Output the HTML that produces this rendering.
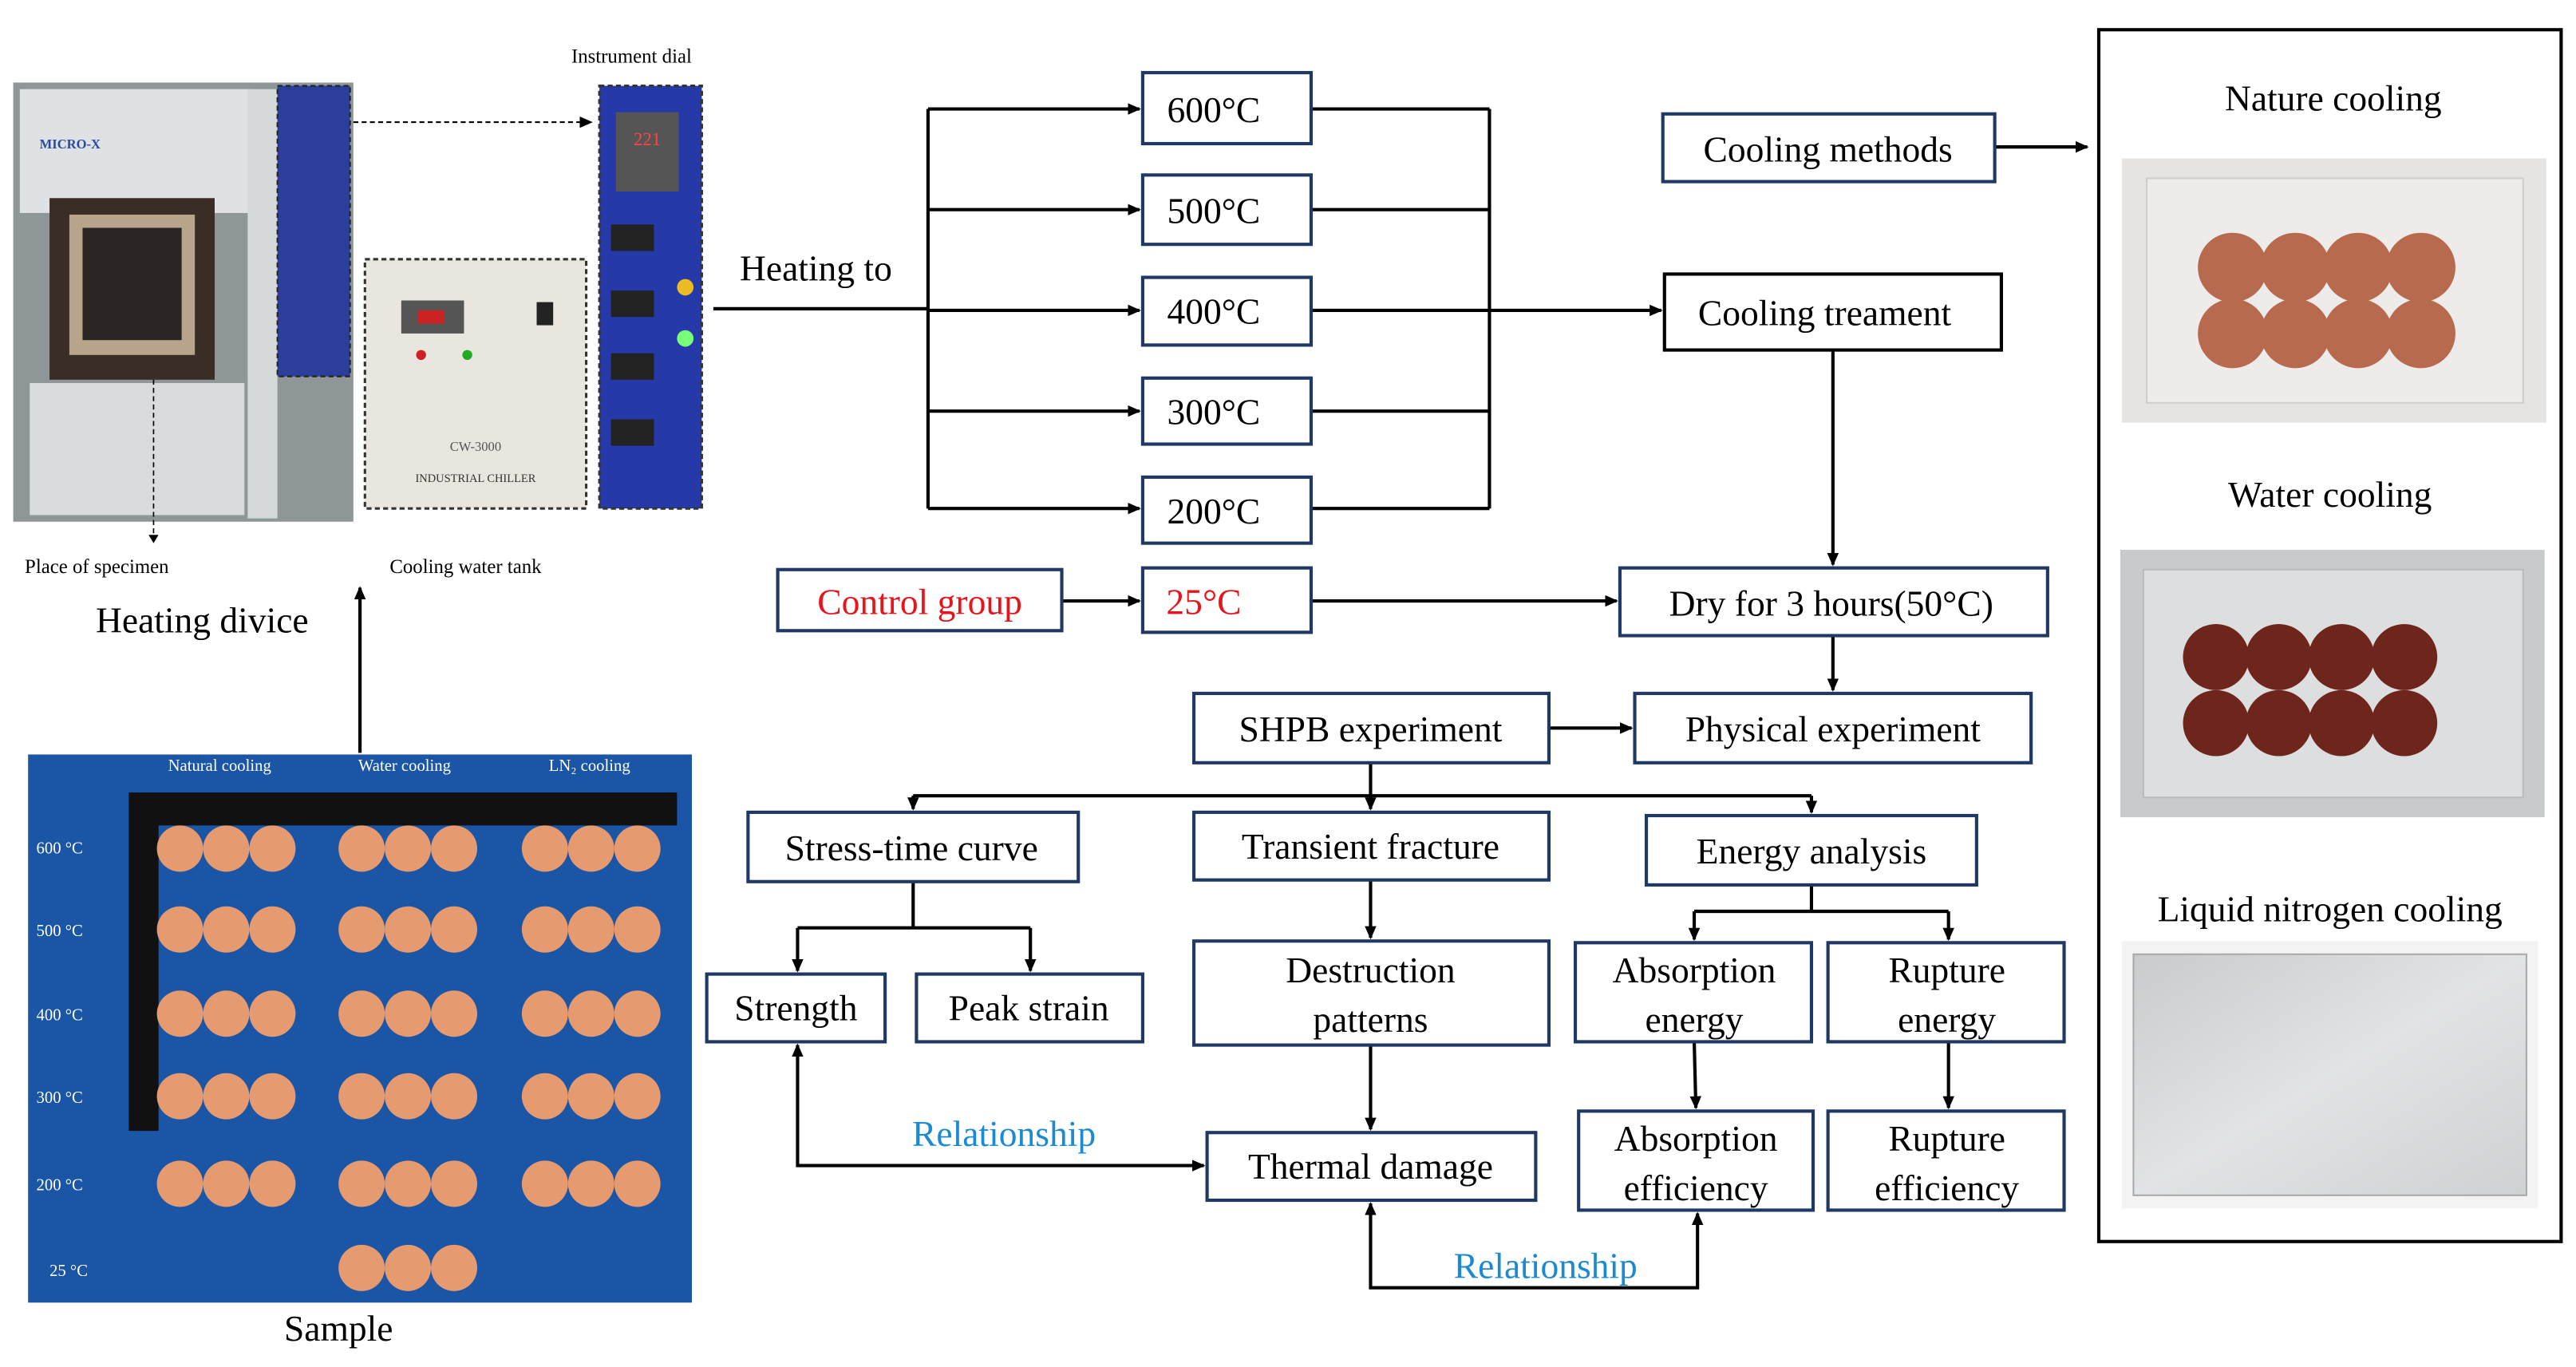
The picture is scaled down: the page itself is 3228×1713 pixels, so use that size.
<!DOCTYPE html>
<html><head><meta charset="utf-8"><style>
html,body{margin:0;padding:0;background:#fff;}
svg{display:block;}
text{font-family:"Liberation Serif",serif;}
</style></head><body>
<svg width="3228" height="1713" viewBox="0 0 1560 828" preserveAspectRatio="none" xmlns="http://www.w3.org/2000/svg">
<defs>
<marker id="ar" markerWidth="8" markerHeight="8" refX="7" refY="4" orient="auto" markerUnits="userSpaceOnUse"><path d="M0,0.5 L8,4 L0,7.5 z" fill="#000"/></marker>
<marker id="ars" markerWidth="8" markerHeight="8" refX="1" refY="4" orient="auto" markerUnits="userSpaceOnUse"><path d="M8,0.5 L0,4 L8,7.5 z" fill="#000"/></marker>
<linearGradient id="ln" x1="0" y1="0" x2="1" y2="1"><stop offset="0" stop-color="#c9cbcc"/><stop offset="0.5" stop-color="#e2e3e4"/><stop offset="1" stop-color="#cfd1d2"/></linearGradient>
</defs>

<!-- LEFT: heating device photos -->
<rect x="8" y="50" width="206" height="266" fill="#8e9698"/>
<rect x="12" y="54" width="140" height="75" fill="#dfe2e4"/>
<text x="24" y="90" font-size="8" fill="#2a4aa0" font-family="Liberation Sans,sans-serif" font-weight="bold">MICRO-X</text>
<rect x="30" y="120" width="100" height="110" fill="#3a2d25"/>
<rect x="42" y="130" width="76" height="85" fill="#b8a48a"/>
<rect x="50" y="138" width="60" height="68" fill="#2a2522"/>
<rect x="18" y="232" width="130" height="80" fill="#d9dcdc"/>
<rect x="150" y="54" width="18" height="260" fill="#d6d9da"/>
<rect x="168" y="52" width="44" height="176" fill="#2b3f9a" stroke="#222" stroke-dasharray="3,2" stroke-width="1"/>
<rect x="221" y="157" width="134" height="151" fill="#e9e6df" stroke="#333" stroke-dasharray="3,2" stroke-width="1.5"/>
<rect x="243" y="182" width="38" height="20" fill="#555"/>
<rect x="253" y="188" width="16" height="8" fill="#c22"/>
<rect x="325" y="183" width="10" height="14" fill="#222"/>
<circle cx="255" cy="215" r="3" fill="#c22"/><circle cx="283" cy="215" r="3" fill="#2a2"/>
<text x="288" y="273" font-size="8" text-anchor="middle" fill="#555" font-family="Liberation Sans,sans-serif">CW-3000</text>
<text x="288" y="292" font-size="7" text-anchor="middle" fill="#333" font-family="Liberation Sans,sans-serif">INDUSTRIAL CHILLER</text>
<rect x="363" y="52" width="62" height="256" fill="#2639a8" stroke="#333" stroke-dasharray="3,2" stroke-width="1.5"/>
<rect x="373" y="68" width="38" height="48" fill="#555"/>
<text x="392" y="88" font-size="11" text-anchor="middle" fill="#f44" font-family="Liberation Sans,sans-serif">221</text>
<rect x="370" y="136" width="26" height="16" fill="#222"/><rect x="370" y="176" width="26" height="16" fill="#222"/>
<rect x="370" y="214" width="26" height="16" fill="#222"/><rect x="370" y="254" width="26" height="16" fill="#222"/>
<circle cx="415" cy="174" r="5" fill="#eb2"/><circle cx="415" cy="205" r="5" fill="#7f7"/>
<line x1="214" y1="74" x2="358" y2="74" stroke="#000" stroke-dasharray="3,2" marker-end="url(#ar)"/>
<line x1="93" y1="230" x2="93" y2="326" stroke="#000" stroke-dasharray="3,2" stroke-width="0.8"/>
<path d="M90,324 L96,324 L93,329z" fill="#000"/>
<text x="346" y="38" font-size="12">Instrument dial</text>
<text x="15" y="347" font-size="12">Place of specimen</text>
<text x="236" y="347" font-size="12">Cooling water tank</text>
<text x="58" y="383" font-size="22">Heating divice</text>
<line x1="218" y1="456" x2="218" y2="356" stroke="#000" stroke-width="2" marker-end="url(#ar)"/>

<!-- Sample photo -->
<rect x="17" y="457" width="402" height="332" fill="#1b55a6"/>
<text x="133" y="467" font-size="10" fill="#fff" text-anchor="middle">Natural cooling</text>
<text x="245" y="467" font-size="10" fill="#fff" text-anchor="middle">Water cooling</text>
<text x="357" y="467" font-size="10" fill="#fff" text-anchor="middle">LN₂ cooling</text>
<path d="M78,480 L410,480 L410,500 L96,500 L96,685 L78,685 Z" fill="#111"/>
<g font-size="10" fill="#fff">
<text x="22" y="517">600 °C</text><text x="22" y="567">500 °C</text><text x="22" y="618">400 °C</text>
<text x="22" y="668">300 °C</text><text x="22" y="721">200 °C</text><text x="30" y="773">25 °C</text>
</g>
<g fill="#e59a70">
<circle cx="109" cy="514" r="14"/><circle cx="137" cy="514" r="14"/><circle cx="165" cy="514" r="14"/>
<circle cx="219" cy="514" r="14"/><circle cx="247" cy="514" r="14"/><circle cx="275" cy="514" r="14"/>
<circle cx="330" cy="514" r="14"/><circle cx="358" cy="514" r="14"/><circle cx="386" cy="514" r="14"/>
<circle cx="109" cy="563" r="14"/><circle cx="137" cy="563" r="14"/><circle cx="165" cy="563" r="14"/>
<circle cx="219" cy="563" r="14"/><circle cx="247" cy="563" r="14"/><circle cx="275" cy="563" r="14"/>
<circle cx="330" cy="563" r="14"/><circle cx="358" cy="563" r="14"/><circle cx="386" cy="563" r="14"/>
<circle cx="109" cy="614" r="14"/><circle cx="137" cy="614" r="14"/><circle cx="165" cy="614" r="14"/>
<circle cx="219" cy="614" r="14"/><circle cx="247" cy="614" r="14"/><circle cx="275" cy="614" r="14"/>
<circle cx="330" cy="614" r="14"/><circle cx="358" cy="614" r="14"/><circle cx="386" cy="614" r="14"/>
<circle cx="109" cy="664" r="14"/><circle cx="137" cy="664" r="14"/><circle cx="165" cy="664" r="14"/>
<circle cx="219" cy="664" r="14"/><circle cx="247" cy="664" r="14"/><circle cx="275" cy="664" r="14"/>
<circle cx="330" cy="664" r="14"/><circle cx="358" cy="664" r="14"/><circle cx="386" cy="664" r="14"/>
<circle cx="109" cy="717" r="14"/><circle cx="137" cy="717" r="14"/><circle cx="165" cy="717" r="14"/>
<circle cx="219" cy="717" r="14"/><circle cx="247" cy="717" r="14"/><circle cx="275" cy="717" r="14"/>
<circle cx="330" cy="717" r="14"/><circle cx="358" cy="717" r="14"/><circle cx="386" cy="717" r="14"/>
<circle cx="219" cy="768" r="14"/><circle cx="247" cy="768" r="14"/><circle cx="275" cy="768" r="14"/>
</g>
<text x="205" y="812" font-size="22" text-anchor="middle">Sample</text>

<!-- Heating flow -->
<text x="448" y="170" font-size="22">Heating to</text>
<g stroke="#000" stroke-width="2" fill="none">
<line x1="432" y1="187" x2="562" y2="187"/>
<line x1="562" y1="66" x2="562" y2="308"/>
<line x1="562" y1="66" x2="690" y2="66" marker-end="url(#ar)"/>
<line x1="562" y1="127" x2="690" y2="127" marker-end="url(#ar)"/>
<line x1="562" y1="188" x2="690" y2="188" marker-end="url(#ar)"/>
<line x1="562" y1="249" x2="690" y2="249" marker-end="url(#ar)"/>
<line x1="562" y1="308" x2="690" y2="308" marker-end="url(#ar)"/>
<line x1="794" y1="66" x2="902" y2="66"/><line x1="794" y1="127" x2="902" y2="127"/>
<line x1="794" y1="249" x2="902" y2="249"/><line x1="794" y1="308" x2="902" y2="308"/>
<line x1="902" y1="66" x2="902" y2="308"/>
<line x1="794" y1="188" x2="1006" y2="188" marker-end="url(#ar)"/>
<line x1="643" y1="364" x2="690" y2="364" marker-end="url(#ar)"/>
<line x1="794" y1="364" x2="979" y2="364" marker-end="url(#ar)"/>
<line x1="1208" y1="89" x2="1264" y2="89" marker-end="url(#ar)"/>
<line x1="1110" y1="212" x2="1110" y2="342" marker-end="url(#ar)"/>
<line x1="1110" y1="385" x2="1110" y2="418" marker-end="url(#ar)"/>
<line x1="938" y1="441" x2="988" y2="441" marker-end="url(#ar)"/>
<line x1="830" y1="462" x2="830" y2="482"/>
<line x1="553" y1="482" x2="1097" y2="482"/>
<line x1="553" y1="482" x2="553" y2="490" marker-end="url(#ar)"/>
<line x1="830" y1="482" x2="830" y2="490" marker-end="url(#ar)"/>
<line x1="1097" y1="482" x2="1097" y2="492" marker-end="url(#ar)"/>
<line x1="553" y1="534" x2="553" y2="562"/>
<line x1="483" y1="562" x2="624" y2="562"/>
<line x1="483" y1="562" x2="483" y2="588" marker-end="url(#ar)"/>
<line x1="624" y1="562" x2="624" y2="588" marker-end="url(#ar)"/>
<line x1="830" y1="533" x2="830" y2="568" marker-end="url(#ar)"/>
<line x1="1097" y1="536" x2="1097" y2="552"/>
<line x1="1026" y1="552" x2="1180" y2="552"/>
<line x1="1026" y1="552" x2="1026" y2="569" marker-end="url(#ar)"/>
<line x1="1180" y1="552" x2="1180" y2="569" marker-end="url(#ar)"/>
<line x1="830" y1="633" x2="830" y2="684" marker-end="url(#ar)"/>
<line x1="1026" y1="631" x2="1027" y2="671" marker-end="url(#ar)"/>
<line x1="1180" y1="631" x2="1180" y2="671" marker-end="url(#ar)"/>
<polyline points="483,633 483,706 729,706" marker-start="url(#ars)" marker-end="url(#ar)"/>
<polyline points="830,729 830,780 1028,780 1028,735" marker-start="url(#ars)" marker-end="url(#ar)"/>
</g>

<!-- Boxes -->
<g fill="#fff" stroke="#1f3864" stroke-width="2">
<rect x="692" y="44" width="102" height="43"/>
<rect x="692" y="106" width="102" height="42"/>
<rect x="692" y="168" width="102" height="41"/>
<rect x="692" y="229" width="102" height="40"/>
<rect x="692" y="289" width="102" height="40"/>
<rect x="692" y="344" width="102" height="39"/>
<rect x="471" y="345" width="172" height="37"/>
<rect x="1007" y="69" width="201" height="41"/>
<rect x="1008" y="166" width="204" height="46" stroke="#000"/>
<rect x="981" y="344" width="259" height="41"/>
<rect x="723" y="420" width="215" height="42"/>
<rect x="990" y="420" width="240" height="42"/>
<rect x="453" y="492" width="200" height="42"/>
<rect x="723" y="492" width="215" height="41"/>
<rect x="997" y="494" width="200" height="42"/>
<rect x="428" y="590" width="108" height="41"/>
<rect x="555" y="590" width="137" height="41"/>
<rect x="723" y="570" width="215" height="63"/>
<rect x="954" y="571" width="143" height="60"/>
<rect x="1107" y="571" width="143" height="60"/>
<rect x="731" y="686" width="199" height="41"/>
<rect x="956" y="673" width="142" height="60"/>
<rect x="1107" y="673" width="143" height="60"/>
</g>
<g font-size="22" text-anchor="middle">
<text x="735" y="74">600°C</text>
<text x="735" y="135">500°C</text>
<text x="735" y="196">400°C</text>
<text x="735" y="257">300°C</text>
<text x="735" y="317">200°C</text>
<text x="729" y="372" fill="#e8141c">25°C</text>
<text x="557" y="372" fill="#e8141c">Control group</text>
<text x="1107" y="98">Cooling methods</text>
<text x="1105" y="197">Cooling treament</text>
<text x="1109" y="373">Dry for 3 hours(50°C)</text>
<text x="830" y="449">SHPB experiment</text>
<text x="1110" y="449">Physical experiment</text>
<text x="552" y="521">Stress-time curve</text>
<text x="830" y="520">Transient fracture</text>
<text x="1097" y="523">Energy analysis</text>
<text x="482" y="618">Strength</text>
<text x="623" y="618">Peak strain</text>
<text x="830" y="595">Destruction</text><text x="830" y="625">patterns</text>
<text x="1026" y="595">Absorption</text><text x="1026" y="625">energy</text>
<text x="1179" y="595">Rupture</text><text x="1179" y="625">energy</text>
<text x="830" y="714">Thermal damage</text>
<text x="1027" y="697">Absorption</text><text x="1027" y="727">efficiency</text>
<text x="1179" y="697">Rupture</text><text x="1179" y="727">efficiency</text>
<text x="608" y="694" fill="#1c8ad0">Relationship</text>
<text x="936" y="774" fill="#1c8ad0">Relationship</text>
</g>

<!-- Right panel -->
<rect x="1271" y="18" width="280" height="734" fill="#fff" stroke="#000" stroke-width="2"/>
<g font-size="22" text-anchor="middle">
<text x="1413" y="67">Nature cooling</text>
<text x="1411" y="307">Water cooling</text>
<text x="1411" y="558">Liquid nitrogen cooling</text>
</g>
<rect x="1285" y="96" width="257" height="160" fill="#e6e4e2"/>
<rect x="1300" y="108" width="228" height="136" fill="#eeecea" stroke="#d0cdca"/>
<g fill="#b86a4e">
<circle cx="1352" cy="162" r="21"/><circle cx="1390" cy="162" r="21"/><circle cx="1428" cy="162" r="21"/><circle cx="1466" cy="162" r="21"/>
<circle cx="1352" cy="202" r="21"/><circle cx="1390" cy="202" r="21"/><circle cx="1428" cy="202" r="21"/><circle cx="1466" cy="202" r="21"/>
</g>
<rect x="1284" y="333" width="257" height="162" fill="#c8cbcc"/>
<rect x="1298" y="345" width="230" height="138" fill="#dcdedf" stroke="#b9bcbd"/>
<g fill="#6e261c">
<circle cx="1342" cy="398" r="20"/><circle cx="1380" cy="398" r="20"/><circle cx="1418" cy="398" r="20"/><circle cx="1456" cy="398" r="20"/>
<circle cx="1342" cy="438" r="20"/><circle cx="1380" cy="438" r="20"/><circle cx="1418" cy="438" r="20"/><circle cx="1456" cy="438" r="20"/>
</g>
<rect x="1285" y="570" width="252" height="162" fill="#f3f3f3"/>
<rect x="1292" y="578" width="238" height="146" fill="url(#ln)" stroke="#aaa"/>
</svg>
</body></html>
